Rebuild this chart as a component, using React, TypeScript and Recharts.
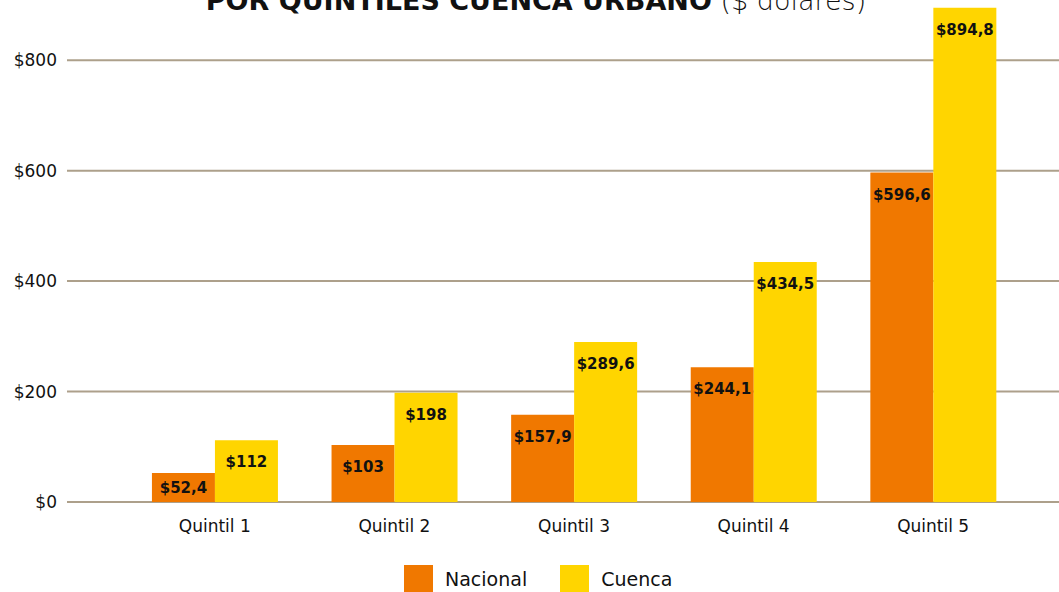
import React from "react";
import { BarChart, Bar, XAxis, YAxis, CartesianGrid, LabelList } from "recharts";

const categories = ["Quintil 1", "Quintil 2", "Quintil 3", "Quintil 4", "Quintil 5"];
const nacional = [52.4, 103, 157.9, 244.1, 596.6];
const cuenca = [112, 198, 289.6, 434.5, 894.8];
const yTicks = [0, 200, 400, 600, 800];
const seriesNames = ["Nacional", "Cuenca"];
const colors = ["#F07800", "#FFD500"];

const data = categories.map((c, i) => ({ name: c, nacional: nacional[i], cuenca: cuenca[i] }));

const FONT = "'DejaVu Sans', sans-serif";

if (typeof document !== "undefined") {
  document.body.style.margin = "0";
  document.body.style.overflow = "hidden";
  document.documentElement.style.overflow = "hidden";
}

const fmt = (v: number) => "$" + String(v).replace(".", ",");

const renderLabel = (props: any) => {
  const { x, y, width, height, value } = props;
  const dy = Math.min(22, height / 2);
  return (
    <text
      x={x + width / 2}
      y={y + dy}
      textAnchor="middle"
      dominantBaseline="central"
      fontFamily={FONT}
      fontWeight={700}
      fontSize={15}
      fill="#111"
    >
      {fmt(value)}
    </text>
  );
};

export default function App() {
  return (
    <div style={{ position: "relative", width: 1059, height: 592, overflow: "hidden", background: "#fff" }}>
      <svg width={1059} height={30} style={{ position: "absolute", left: 0, top: 0 }}>
        <text x={536} y={10} textAnchor="middle" fontFamily={FONT} fontSize={27} fill="#111">
          <tspan fontWeight={700}>POR QUINTILES CUENCA URBANO</tspan>
          <tspan fontWeight={200}> ($ dólares)</tspan>
        </text>
      </svg>
      <BarChart
        width={1059}
        height={592}
        data={data}
        margin={{ top: 5, right: 0, left: 0, bottom: 50 }}
        barCategoryGap="15%"
        barGap={0}
      >
        <CartesianGrid
          horizontal
          vertical={false}
          horizontalValues={yTicks}
          stroke="#ADA08B"
          strokeWidth={2}
        />
        <XAxis
          dataKey="name"
          axisLine={false}
          tickLine={false}
          height={40}
          padding={{ left: 58, right: 36 }}
          tick={{ fontFamily: FONT, fontSize: 17, fill: "#111" }}
          dy={10}
        />
        <YAxis
          domain={[0, 900]}
          ticks={yTicks}
          axisLine={false}
          tickLine={false}
          width={67}
          tickFormatter={(v: number) => "$" + v}
          tick={{ fontFamily: FONT, fontSize: 17, fill: "#111" }}
          dx={-2}
        />
        <Bar dataKey="nacional" name={seriesNames[0]} fill={colors[0]} isAnimationActive={false}>
          <LabelList dataKey="nacional" content={renderLabel} />
        </Bar>
        <Bar dataKey="cuenca" name={seriesNames[1]} fill={colors[1]} isAnimationActive={false}>
          <LabelList dataKey="cuenca" content={renderLabel} />
        </Bar>
      </BarChart>
      <div
        style={{
          position: "absolute",
          left: 404,
          top: 565,
          height: 27,
          display: "flex",
          alignItems: "center",
          fontFamily: FONT,
          fontSize: 19,
          color: "#111",
        }}
      >
        {seriesNames.map((n, i) => (
          <div key={n} style={{ display: "flex", alignItems: "center", marginRight: i === 0 ? 33 : 0 }}>
            <div style={{ width: 29, height: 27, background: colors[i], marginRight: 12 }} />
            <span>{n}</span>
          </div>
        ))}
      </div>
    </div>
  );
}
